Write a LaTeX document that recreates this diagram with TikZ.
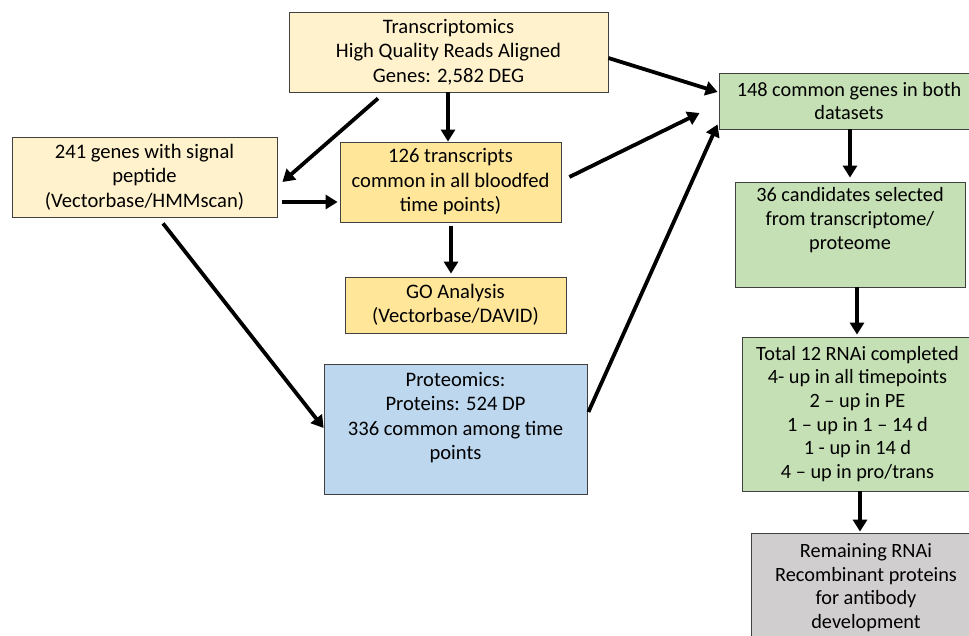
\documentclass[tikz,border=0pt]{standalone}
\usepackage{fontspec}
\setmainfont{Carlito}
\usetikzlibrary{arrows.meta,calc}
\definecolor{ylight}{HTML}{FFF2CC}
\definecolor{ydark}{HTML}{FFE699}
\definecolor{bluebox}{HTML}{BDD7EE}
\definecolor{greenbox}{HTML}{C5E0B4}
\definecolor{graybox}{HTML}{D0CECE}
\definecolor{edgegray}{HTML}{404040}
\tikzset{
  box/.style={draw=edgegray, line width=0.8pt, rectangle, inner sep=0pt, align=center},
  lefttxt/.style={font=\fontsize{20.6}{24.5}\selectfont},
  righttxt/.style={font=\fontsize{20.3}{23.7}\selectfont},
  txt/.style={align=center, inner sep=0pt},
  arr/.style={line width=3.8pt, -{Triangle[length=12pt,width=14pt]}},
}
\begin{document}
\begin{tikzpicture}[x=1pt,y=-1pt]
\useasboundingbox (0,0) rectangle (969,636);
% left side
\node[box, fill=ylight, lefttxt, minimum width=319pt, minimum height=80pt] (trans) at (448.5,52) {Transcriptomics\\High Quality Reads Aligned\\Genes: 2,582 DEG};
\node[box, fill=ylight, lefttxt, minimum width=265pt, minimum height=80pt] (sig) at (144.5,177) {241 genes with signal\\peptide\\(Vectorbase/HMMscan)};
\node[box, fill=ydark, lefttxt, minimum width=221pt, minimum height=80pt] (t126) at (450.5,182) {126 transcripts\\common in all bloodfed\\time points)};
\node[box, fill=ydark, lefttxt, minimum width=221pt, minimum height=56pt] (go) at (455.5,305) {GO Analysis\\(Vectorbase/DAVID)};
\node[box, fill=bluebox, minimum width=263pt, minimum height=130pt] (prot) at (455.5,429) {};
\node[txt, lefttxt] (tprot) at (455.5,417.5) {Proteomics:\\Proteins: 524 DP\\336 common among time\\points};
% right column
\node[box, fill=greenbox, righttxt, minimum width=260pt, minimum height=56pt] (c148) at (849,101) {148 common genes in both\\datasets};
\node[box, fill=greenbox, minimum width=230pt, minimum height=105pt] (c36) at (850,234.5) {};
\node[txt, righttxt] (t36) at (850,220) {36 candidates selected\\from transcriptome/\\proteome};
\node[box, fill=greenbox, righttxt, minimum width=231pt, minimum height=154pt] (tot) at (857.5,414) {Total 12 RNAi completed\\4- up in all timepoints\\2 -- up in PE\\1 -- up in 1 -- 14 d\\1 - up in 14 d\\4 -- up in pro/trans};
\node[box, fill=graybox, minimum width=230pt, minimum height=157pt] (rem) at (866,611.5) {};
\node[txt, righttxt] (trem) at (866,587.5) {Remaining RNAi\\Recombinant proteins\\for antibody\\development};
% arrows
\draw[arr] ($(trans.east)+(0,6)$) -- ($(c148.west)+(-1,-9)$);
\draw[arr] ($(t126.east)+(8,-5)$) -- ($(c148.west)+(-19,12)$);
\draw[arr] ($(prot.east)+(1,-17)$) -- ($(c148.south west)+(-1,-5)$);
\draw[arr] ($(trans.south)+(-70.5,6)$) -- ($(sig.east)+(5,5)$);
\draw[arr] ($(trans.south)+(-0.5,0)$) -- ($(t126.north)+(-2.5,0)$);
\draw[arr] ($(sig.east)+(5,25)$) -- ($(t126.west)+(-2,20)$);
\draw[arr] ($(t126.south)+(0.5,4)$) -- ($(go.north)+(-4.5,-3)$);
\draw[arr] ($(sig.south)+(18.5,6)$) -- ($(prot.west)+(0,-1)$);
\draw[arr] ($(c148.south)+(1,0)$) -- ($(c36.north)+(0,-4)$);
\draw[arr] ($(c36.south)+(7,0)$) -- ($(tot.north)+(-0.5,-2)$);
\draw[arr] ($(tot.south)+(2.5,0)$) -- ($(rem.north)+(-6,-1)$);
\end{tikzpicture}
\end{document}
